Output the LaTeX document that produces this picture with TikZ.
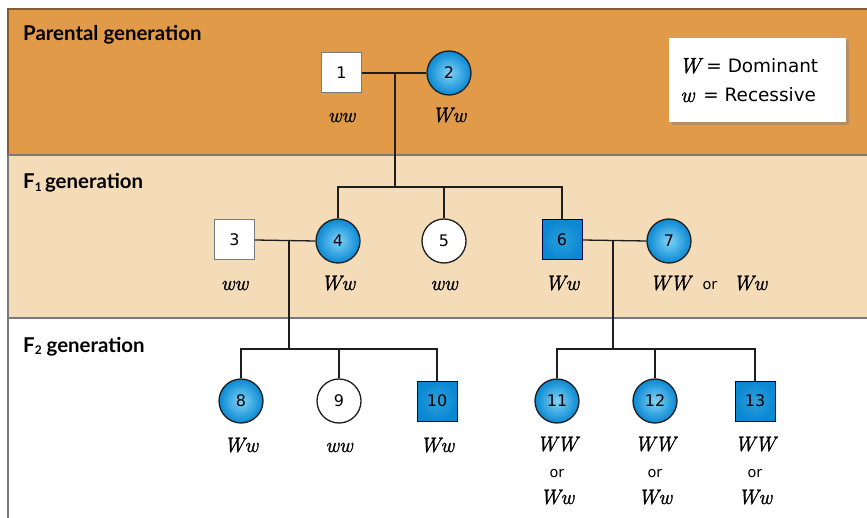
\documentclass[tikz,border=0pt]{standalone}
\usepackage{fontspec}
\setsansfont{Lato}
\newfontfamily\numfont{DejaVu Sans}
\newfontfamily\genofont{Latin Modern Roman}[FakeBold=1.3]
\usetikzlibrary{shadows,calc}
\definecolor{orng}{HTML}{E09A48}
\definecolor{peach}{HTML}{F5DCB8}
\definecolor{bluea}{HTML}{0A88D2}
\definecolor{blueb}{HTML}{7FD3F7}
\definecolor{edge}{HTML}{1E1E1E}
\definecolor{band}{HTML}{7A7A7A}
\tikzset{
  fem/.style={circle, draw=edge, line width=1.3bp, minimum size=44bp, inner sep=0pt,
    font=\numfont\fontsize{16}{16}\selectfont},
  femA/.style={fem, inner color=blueb, outer color=bluea},
  femU/.style={fem, fill=white},
  male/.style={rectangle, minimum size=40bp, inner sep=0pt, line width=1bp,
    font=\numfont\fontsize{16}{16}\selectfont},
  maleU/.style={male, draw=band, fill=white},
  maleA/.style={male, draw=blue!30!black, inner color=bluea!70!blueb, outer color=bluea},
  geno/.style={anchor=base, inner sep=0pt, font=\genofont\itshape\fontsize{21}{21}\selectfont},
  ortext/.style={anchor=base, inner sep=0pt, font=\numfont\fontsize{14.5}{14.5}\selectfont},
  gentitle/.style={anchor=base west, inner sep=0pt, font=\sffamily\bfseries\fontsize{20.5}{20.5}\selectfont},
  legtext/.style={anchor=base west, inner sep=0pt, font=\numfont\fontsize{18.5}{18.5}\selectfont},
  link/.style={draw=edge, line width=1.3bp},
  bandline/.style={draw=band, line width=1.5bp},
}
\begin{document}
\begin{tikzpicture}[x=1bp,y=-1bp]
\useasboundingbox (0,0) rectangle (867,518);
% bands
\fill[orng] (8,9) rectangle (870,155);
\fill[peach] (8,155) rectangle (870,318);
\fill[white] (8,318) rectangle (870,520);
\draw[bandline, draw=orng!60!black] (870,9) -- (8,9) -- (8,155);
\draw[bandline] (8,155) -- (8,520);
\draw[bandline] (8,155) -- (870,155);
\draw[bandline] (8,318) -- (870,318);
% titles
\node[gentitle] (t0) at (23,41) {Parental generation};
\node[gentitle] (t1) at (23,189) {F\raisebox{-0.25ex}{\fontsize{12}{12}\selectfont 1}\,generation};
\node[gentitle] (t2) at (23,352) {F\raisebox{-0.25ex}{\fontsize{12}{12}\selectfont 2} generation};
% legend
\node[draw=none, fill=white, drop shadow={opacity=0.45, shadow xshift=3bp, shadow yshift=-3bp},
  minimum width=177bp, minimum height=84bp] (leg) at (757.5,80) {};
\node[legtext] (l1) at (679,73)
  {{\genofont\itshape\fontsize{22}{22}\selectfont W} = Dominant};
\node[legtext] (l2) at (680,102)
  {{\genofont\itshape\fontsize{22}{22}\selectfont w}\, = Recessive};
% parental
\node[maleU] (n1) at (341.5,73) {1};
\node[femA] (n2) at (449,73) {2};
\node[geno] (g1) at (341.5,122) {ww};
\node[geno] (g2) at (449,122) {Ww};
% F1
\node[maleU] (n3) at (234.5,240) {3};
\node[femA] (n4) at (338,241) {4};
\node[femU] (n5) at (444,241) {5};
\node[maleA] (n6) at (562,240) {6};
\node[femA] (n7) at (669,241) {7};
\node[geno] (g3) at (234.5,290) {ww};
\node[geno] (g4) at (338,290) {Ww};
\node[geno] (g5) at (444,290) {ww};
\node[geno] (g6) at (562,290) {Ww};
\node[geno] (g7a) at (670,290) {WW};
\node[ortext] (g7b) at (710,290) {or};
\node[geno] (g7c) at (750,290) {Ww};
% F2
\node[femA] (n8) at (241,401) {8};
\node[femU] (n9) at (339,401) {9};
\node[maleA] (n10) at (437,401) {10};
\node[femA] (n11) at (557,401) {11};
\node[femA] (n12) at (655,401) {12};
\node[maleA] (n13) at (755,401) {13};
\node[geno] (g8) at (241,452) {Ww};
\node[geno] (g9) at (339,452) {ww};
\node[geno] (g10) at (437,452) {Ww};
\foreach \n/\x in {11/557,12/655,13/755}{
  \node[geno] (g\n a) at (\x,451) {WW};
  \node[ortext] (g\n b) at (\x,477) {or};
  \node[geno] (g\n c) at (\x,504) {Ww};
}
% connectors
\coordinate (m12) at (395,73);
\coordinate (s1) at (395,187);
\draw[link] (n1.east) -- (n2.west);
\draw[link] (m12) -- (s1);
\draw[link] (n4.north) -- (n4.north |- s1) -- (n6.north |- s1) -- (n6.north);
\draw[link] (n5.north) -- (n5.north |- s1);
\coordinate (m34) at (289,241);
\coordinate (s2) at (289,349);
\draw[link] (n3.east) -- (n4.west);
\draw[link] (m34) -- (s2);
\draw[link] (n8.north) -- (n8.north |- s2) -- (n10.north |- s2) -- (n10.north);
\draw[link] (n9.north) -- (n9.north |- s2);
\coordinate (m67) at (613,241);
\coordinate (s3) at (613,349);
\draw[link] (n6.east) -- (n7.west);
\draw[link] (m67) -- (s3);
\draw[link] (n11.north) -- (n11.north |- s3) -- (n13.north |- s3) -- (n13.north);
\draw[link] (n12.north) -- (n12.north |- s3);
\end{tikzpicture}
\end{document}
